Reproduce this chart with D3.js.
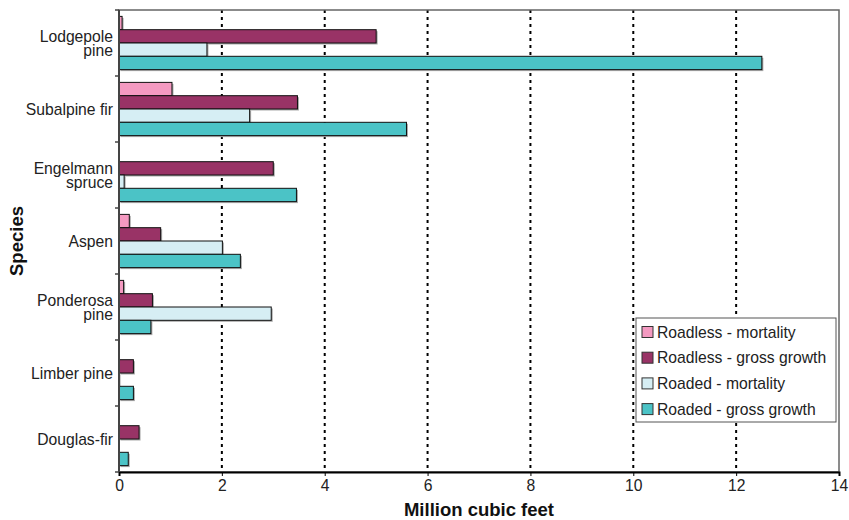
<!DOCTYPE html>
<html><head><meta charset="utf-8">
<script src="https://cdn.jsdelivr.net/npm/d3@7"></script>
<style>body{margin:0;background:#fff}svg{font-family:"Liberation Sans",Arial,sans-serif}</style>
</head><body><svg id="c" width="849" height="520"></svg>
<script>
const species = ["Lodgepole\npine","Subalpine fir","Engelmann\nspruce","Aspen","Ponderosa\npine","Limber pine","Douglas-fir"];
const seriesNames = ["Roadless - mortality","Roadless - gross growth","Roaded - mortality","Roaded - gross growth"];
const seriesColors = ["#F49AC1","#993366","#D6EEF4","#4BC3C6"];
const roadlessMortality = [0.06,1.03,0,0.2,0.09,0,0];
const roadlessGrowth = [5.0,3.47,3.0,0.81,0.65,0.28,0.39];
const roadedMortality = [1.71,2.54,0.1,2.01,2.96,0.01,0];
const roadedGrowth = [12.5,5.59,3.45,2.36,0.62,0.28,0.18];
const xTicks = [0,2,4,6,8,10,12,14];
const series = [roadlessMortality,roadlessGrowth,roadedMortality,roadedGrowth];

const svg = d3.select("#c");
const m = {l:119,t:10,r:839,b:472};
const x = d3.scaleLinear().domain([0,14]).range([m.l,m.r]);
const y = d3.scaleBand().domain(species).range([m.t,m.b]).paddingInner(0).paddingOuter(0);
const yi = d3.scaleBand().domain(d3.range(4)).range([0,y.bandwidth()]).paddingOuter(0.48).paddingInner(0);

// grid
svg.append("g").selectAll("line").data(xTicks.filter(d=>d>0&&d<14)).join("line")
  .attr("x1",d=>x(d)).attr("x2",d=>x(d)).attr("y1",m.t).attr("y2",m.b)
  .attr("stroke","#000").attr("stroke-width",2).attr("stroke-dasharray","3,4");

// border
svg.append("rect").attr("x",m.l).attr("y",m.t).attr("width",m.r-m.l).attr("height",m.b-m.t)
  .attr("fill","none").attr("stroke","#666").attr("stroke-width",1.5);

// bars
species.forEach((sp,i)=>{
  series.forEach((vals,s)=>{
    const v = vals[i];
    if(v<=0) return;
    const by = y(sp)+yi(s);
    svg.append("rect").attr("x",x(0)+1.5).attr("y",by+1.5).attr("width",x(v)-x(0)).attr("height",yi.bandwidth())
      .attr("fill","#aaa");
    svg.append("rect").attr("x",x(0)).attr("y",by).attr("width",x(v)-x(0)).attr("height",yi.bandwidth())
      .attr("fill",seriesColors[s]).attr("stroke","#111").attr("stroke-width",1);
  });
});

// x axis
const xa = svg.append("g").attr("transform",`translate(0,${m.b})`)
  .call(d3.axisBottom(x).tickValues(xTicks).tickSize(4).tickFormat(d3.format("d")));
xa.select(".domain").attr("stroke","#000").attr("stroke-width",2);
xa.selectAll("text").attr("font-size",15.7).attr("fill","#222").attr("dy","0.75em").attr("font-family","Liberation Sans, Arial, sans-serif");

// y axis
svg.append("line").attr("x1",m.l).attr("x2",m.l).attr("y1",m.t).attr("y2",m.b).attr("stroke","#444").attr("stroke-width",2);
const bounds = d3.range(species.length+1).map(i=>m.t+i*y.step());
svg.append("g").selectAll("line").data(bounds).join("line")
  .attr("x1",m.l-4).attr("x2",m.l).attr("y1",d=>d).attr("y2",d=>d).attr("stroke","#444").attr("stroke-width",1.5);
species.forEach(sp=>{
  const lines = sp.split("\n");
  const cy = y(sp)+y.bandwidth()/2;
  const t = svg.append("text").attr("text-anchor","end").attr("font-size",15.7).attr("fill","#222");
  lines.forEach((ln,k)=>{
    const yy = lines.length>1 ? cy-1+k*13.5 : cy+6;
    t.append("tspan").attr("x",m.l-6).attr("y",yy).text(ln);
  });
});

// axis titles
svg.append("text").attr("x",(m.l+m.r)/2).attr("y",516).attr("text-anchor","middle")
  .attr("font-size",18.5).attr("font-weight","bold").attr("fill","#111").text("Million cubic feet");
svg.append("text").attr("transform",`translate(23,${(m.t+m.b)/2}) rotate(-90)`).attr("text-anchor","middle")
  .attr("font-size",18.5).attr("font-weight","bold").attr("fill","#111").text("Species");

// legend
const lg = svg.append("g");
lg.append("rect").attr("x",636).attr("y",318).attr("width",200).attr("height",104).attr("fill","#fff").attr("stroke","#555").attr("stroke-width",1);
seriesNames.forEach((n,i)=>{
  const yy = 332+i*25.7;
  lg.append("rect").attr("x",642).attr("y",yy-5.5).attr("width",11).attr("height",11).attr("fill",seriesColors[i]).attr("stroke","#333").attr("stroke-width",1);
  lg.append("text").attr("x",657).attr("y",yy+5.5).attr("font-size",15.7).attr("fill","#222").text(n);
});
</script></body></html>
